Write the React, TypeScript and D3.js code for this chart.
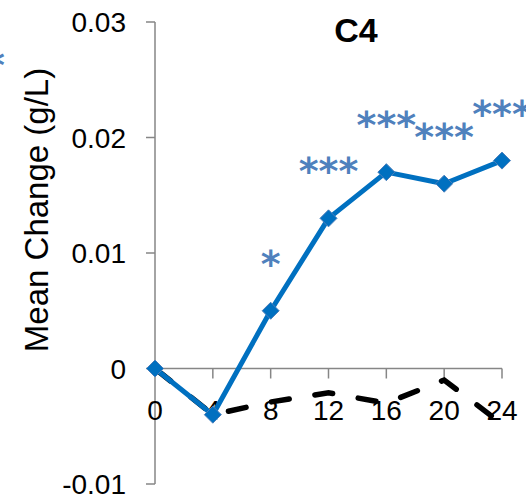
import React from "react";
import * as d3 from "d3";

const hours = [0, 4, 8, 12, 16, 20, 24];
const treatment = [0, -0.004, 0.005, 0.013, 0.017, 0.016, 0.018];
const control = [0, -0.004, -0.0029, -0.0021, -0.003, -0.001, -0.0048];
const significance = ["", "", "*", "***", "***", "***", "***"];
const yTicks = [-0.01, 0, 0.01, 0.02, 0.03];
const yTickLabels = ["-0.01", "0", "0.01", "0.02", "0.03"];
const xTickLabels = ["0", "4", "8", "12", "16", "20", "24"];
const title = "C4";
const yLabel = "Mean Change (g/L)";

const W = 526;
const H = 496;

export default function App() {
  const x = d3.scaleLinear().domain([0, 24]).range([155, 502]);
  const y = d3.scaleLinear().domain([-0.01, 0.03]).range([484, 22]);
  const line = d3
    .line<number>()
    .x((_, i) => x(hours[i]))
    .y((d) => y(d));
  const axisColor = "#868686";
  const blue = "#0070C0";
  const starBlue = "#4F81BD";
  const font = "'Liberation Sans', Arial, sans-serif";

  return (
    <svg
      width={W}
      height={H}
      style={{ position: "absolute", left: 0, top: 0, background: "#fff" }}
    >
      <rect x={0} y={0} width={W} height={H} fill="#fff" />
      {/* neighbour fragment */}
      <text x={-5} y={78} fontFamily="'DejaVu Sans'" fontWeight="bold" fontSize={38} fill={starBlue} textAnchor="middle">*</text>

      {/* y axis */}
      <line x1={x(0)} x2={x(0)} y1={y(0.03)} y2={y(-0.01)} stroke={axisColor} strokeWidth={1.5} />
      {yTicks.map((t, i) => (
        <g key={"yt" + i}>
          <line x1={x(0) - 9} x2={x(0)} y1={y(t)} y2={y(t)} stroke={axisColor} strokeWidth={1.5} />
          <text
            x={126}
            y={y(t) + 10}
            textAnchor="end"
            fontFamily={font}
            fontSize={28}
            fill="#000"
          >
            {yTickLabels[i]}
          </text>
        </g>
      ))}

      {/* x axis */}
      <line x1={x(0)} x2={x(24)} y1={y(0)} y2={y(0)} stroke={axisColor} strokeWidth={1.5} />
      {hours.map((h, i) => (
        <g key={"xt" + i}>
          {i > 0 && (
            <line x1={x(h)} x2={x(h)} y1={y(0)} y2={y(0) + 10} stroke={axisColor} strokeWidth={1.5} />
          )}
          <text
            x={x(h)}
            y={420}
            textAnchor="middle"
            fontFamily={font}
            fontSize={28}
            fill="#000"
          >
            {xTickLabels[i]}
          </text>
        </g>
      ))}

      {/* control dashed */}
      <path
        d={line(control) || ""}
        fill="none"
        stroke="#000"
        strokeWidth={5.5}
        strokeDasharray="18 26"
        strokeDashoffset={-2}
        strokeLinecap="round"
      />

      {/* treatment */}
      <path d={line(treatment) || ""} fill="none" stroke={blue} strokeWidth={5} strokeLinejoin="round" />
      {treatment.map((v, i) => {
        const cx = x(hours[i]);
        const cy = y(v);
        const r = 8.5;
        return (
          <path
            key={"m" + i}
            d={`M${cx},${cy - r}L${cx + r},${cy}L${cx},${cy + r}L${cx - r},${cy}Z`}
            fill={blue}
            stroke="#4A7EBB"
            strokeWidth={1}
          />
        );
      })}

      {/* significance stars */}
      {treatment.map((v, i) =>
        significance[i] ? (
          <text
            key={"s" + i}
            x={x(hours[i])}
            y={y(v) - 34}
            textAnchor="middle"
            fontFamily="'DejaVu Sans'"
            fontWeight="bold"
            fontSize={38}
            fill={starBlue}
          >
            {significance[i]}
          </text>
        ) : null
      )}

      {/* title */}
      <text x={356} y={42} textAnchor="middle" fontFamily={font} fontWeight="bold" fontSize={34} fill="#000">
        {title}
      </text>

      {/* y label */}
      <text
        transform={`translate(48,210) rotate(-90)`}
        textAnchor="middle"
        fontFamily={font}
        fontSize={33}
        fill="#000"
      >
        {yLabel}
      </text>
    </svg>
  );
}
